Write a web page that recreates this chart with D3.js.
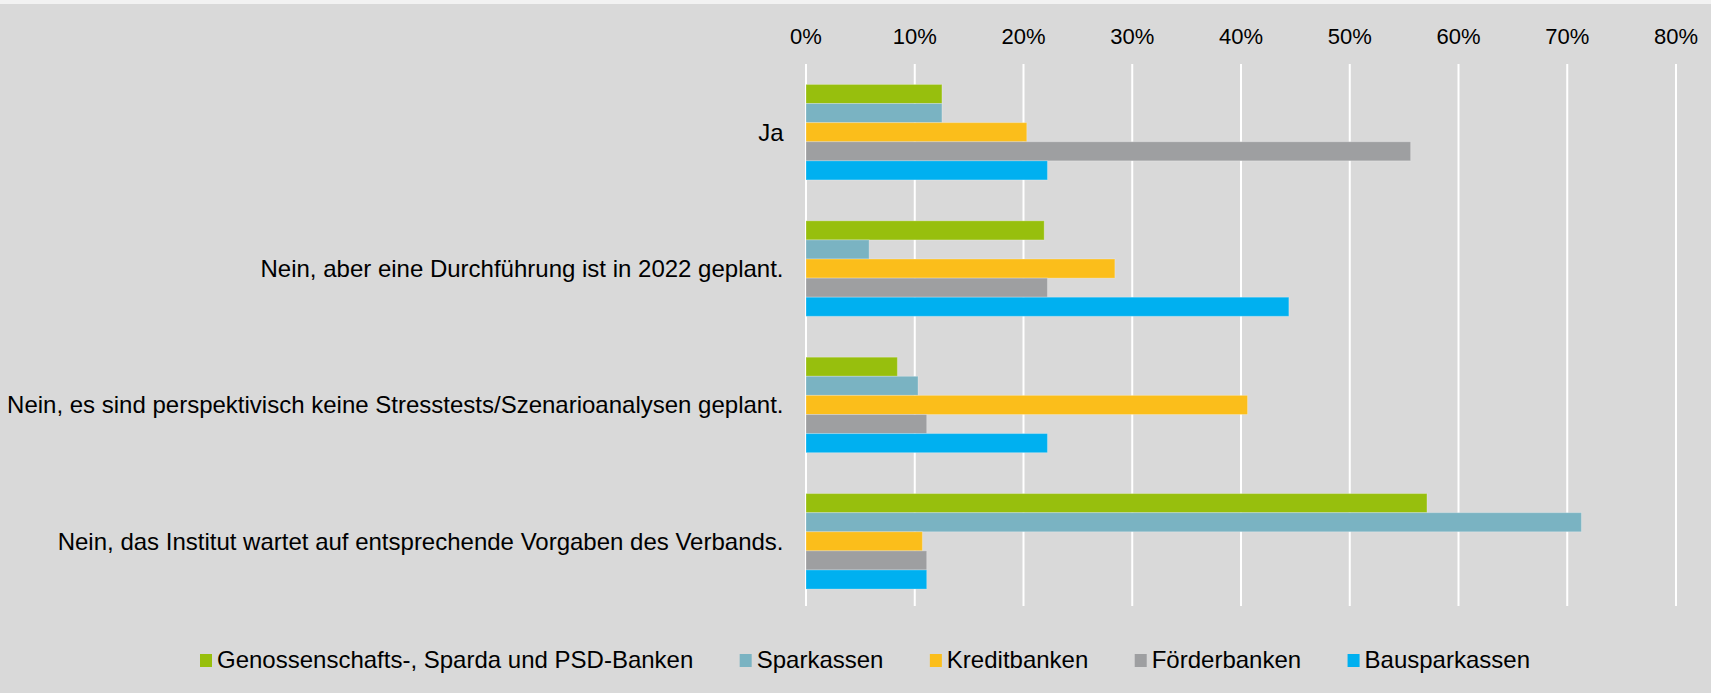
<!DOCTYPE html>
<html>
<head>
<meta charset="utf-8">
<script src="https://cdn.jsdelivr.net/npm/d3@7"></script>
<style>
  body { margin: 0; background: #f2f2f2; }
  text { font-family: "Liberation Sans", Arial, sans-serif; fill: #000; }
</style>
</head>
<body>
<div id="chart"></div>
<script>
// categories (top to bottom) and series
var categories = [
  "Ja",
  "Nein, aber eine Durchführung ist in 2022 geplant.",
  "Nein, es sind perspektivisch keine Stresstests/Szenarioanalysen geplant.",
  "Nein, das Institut wartet auf entsprechende Vorgaben des Verbands."
];
var seriesNames = ["Genossenschafts-, Sparda und PSD-Banken", "Sparkassen", "Kreditbanken", "Förderbanken", "Bausparkassen"];
var seriesColors = ["#97bf0d", "#7ab3c2", "#fbbe1b", "#9e9fa1", "#00b0f0"];

// values in percent, one array per series, in category order
var genossenschaft = [12.5, 21.9, 8.4, 57.1];
var sparkassen     = [12.5, 5.8, 10.3, 71.3];
var kreditbanken   = [20.3, 28.4, 40.6, 10.7];
var foerderbanken  = [55.6, 22.2, 11.1, 11.1];
var bausparkassen  = [22.2, 44.4, 22.2, 11.1];
var seriesValues = [genossenschaft, sparkassen, kreditbanken, foerderbanken, bausparkassen];

var tickValues = [0, 10, 20, 30, 40, 50, 60, 70, 80];

var W = 1711, H = 693;
var svg = d3.select("#chart").append("svg")
    .attr("width", W)
    .attr("height", H)
    .style("display", "block");

// grey panel below thin light strip
svg.append("rect").attr("x", 0).attr("y", 4).attr("width", W).attr("height", H - 4).attr("fill", "#d9d9d9");

var x = d3.scaleLinear().domain([0, 80]).range([806, 1676]);
var y = d3.scaleBand().domain(categories).range([64, 609.5]).paddingInner(0.3).paddingOuter(0.15);
var ySub = d3.scaleBand().domain(seriesNames).range([0, y.bandwidth()]);

// gridlines
svg.append("g").selectAll("line")
  .data(tickValues)
  .enter().append("line")
    .attr("x1", function(d) { return x(d); })
    .attr("x2", function(d) { return x(d); })
    .attr("y1", 64)
    .attr("y2", 606)
    .attr("stroke", "#fff")
    .attr("stroke-width", 2);

// top axis labels
svg.append("g").selectAll("text")
  .data(tickValues)
  .enter().append("text")
    .attr("x", function(d) { return x(d); })
    .attr("y", 44)
    .attr("text-anchor", "middle")
    .style("font-size", "22px")
    .text(function(d) { return d + "%"; });

// bars
var rows = [];
seriesValues.forEach(function(vals, s) {
  vals.forEach(function(v, c) {
    rows.push({cat: categories[c], series: seriesNames[s], color: seriesColors[s], value: v});
  });
});

svg.append("g").selectAll("rect")
  .data(rows)
  .enter().append("rect")
    .attr("x", x(0))
    .attr("y", function(d) { return y(d.cat) + ySub(d.series); })
    .attr("width", function(d) { return x(d.value) - x(0); })
    .attr("height", ySub.bandwidth())
    .attr("fill", function(d) { return d.color; })
    .attr("stroke", "rgba(255,255,255,0.25)")
    .attr("stroke-width", 1);

// category labels
svg.append("g").selectAll("text")
  .data(categories)
  .enter().append("text")
    .attr("x", 783.5)
    .attr("y", function(d) { return y(d) + y.bandwidth() / 2; })
    .attr("dy", "0.35em")
    .attr("text-anchor", "end")
    .style("font-size", "24px")
    .text(function(d) { return d; });

// legend: spread evenly between 200 and 1530
var legend = svg.append("g");
var items = seriesNames.map(function(name, i) {
  var g = legend.append("g");
  g.append("rect")
    .attr("y", 654)
    .attr("width", 12).attr("height", 13)
    .attr("fill", seriesColors[i]);
  var t = g.append("text")
    .attr("x", 17)
    .attr("y", 668)
    .style("font-size", "24px")
    .text(name);
  return {g: g, w: 17 + t.node().getComputedTextLength()};
});
var totalW = d3.sum(items, function(d) { return d.w; });
var gap = (1530 - 200 - totalW) / (items.length - 1);
var lx = 200;
items.forEach(function(it) {
  it.g.attr("transform", "translate(" + lx + ",0)");
  lx += it.w + gap;
});
</script>
</body>
</html>
